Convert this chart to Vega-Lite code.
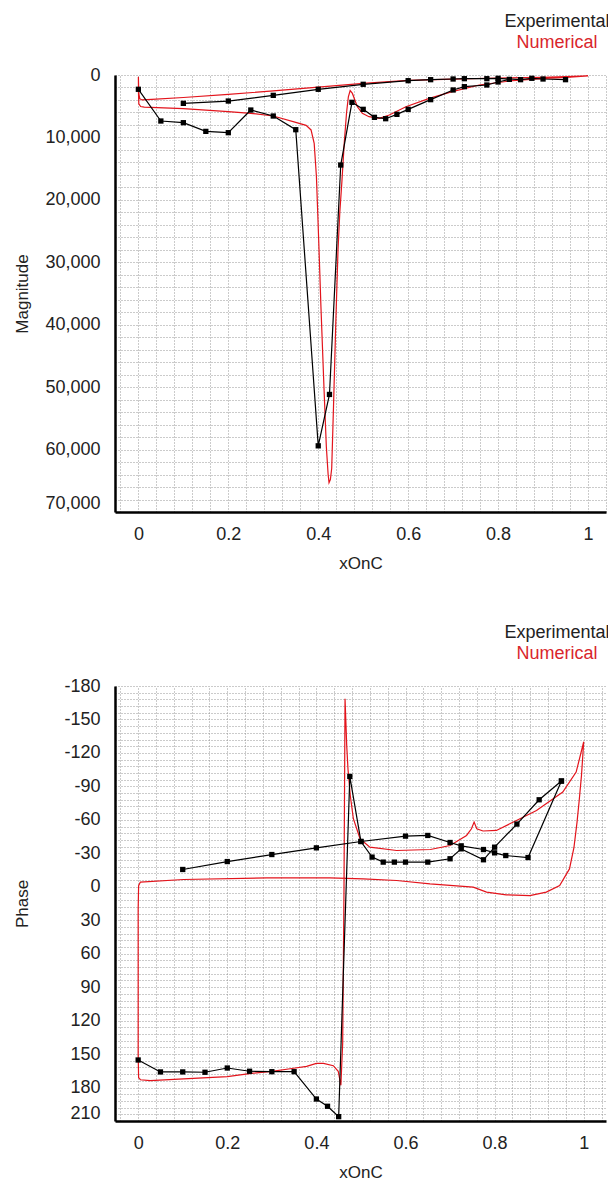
{
  "$schema": "https://vega.github.io/schema/vega-lite/v6.json",
  "background": "white",
  "padding": {"left": 13, "top": 13, "right": 1, "bottom": 0},
  "spacing": 53,
  "config": {
    "view": {"stroke": null},
    "font": "Liberation Sans",
    "axis": {
      "domainColor": "#000000",
      "domainWidth": 2.5,
      "tickSize": 0,
      "tickColor": "#000000",
      "grid": true,
      "gridColor": "#8a8a8a",
      "gridDash": [1, 2],
      "gridWidth": 0.9,
      "labelFont": "Liberation Sans",
      "labelFontSize": 18,
      "labelColor": "#222222",
      "labelOverlap": false,
      "titleFont": "Liberation Sans",
      "titleFontSize": 17,
      "titleFontWeight": "normal",
      "titleColor": "#222222"
    }
  },
  "datasets": {
    "mag": [
      {"series":"Numerical","branch":"N","idx":1,"xOnC":1.0,"value":150},
      {"series":"Numerical","branch":"N","idx":2,"xOnC":0.95,"value":250},
      {"series":"Numerical","branch":"N","idx":3,"xOnC":0.9,"value":370},
      {"series":"Numerical","branch":"N","idx":4,"xOnC":0.8,"value":480},
      {"series":"Numerical","branch":"N","idx":5,"xOnC":0.7,"value":650},
      {"series":"Numerical","branch":"N","idx":6,"xOnC":0.6,"value":870},
      {"series":"Numerical","branch":"N","idx":7,"xOnC":0.5,"value":1330},
      {"series":"Numerical","branch":"N","idx":8,"xOnC":0.4,"value":1950},
      {"series":"Numerical","branch":"N","idx":9,"xOnC":0.3,"value":2550},
      {"series":"Numerical","branch":"N","idx":10,"xOnC":0.2,"value":3100},
      {"series":"Numerical","branch":"N","idx":11,"xOnC":0.1,"value":3600},
      {"series":"Numerical","branch":"N","idx":12,"xOnC":0.03,"value":3900},
      {"series":"Numerical","branch":"N","idx":13,"xOnC":0.008,"value":4000},
      {"series":"Numerical","branch":"N","idx":14,"xOnC":0.003,"value":3800},
      {"series":"Numerical","branch":"N","idx":15,"xOnC":0.001,"value":3000},
      {"series":"Numerical","branch":"N","idx":16,"xOnC":0.0,"value":300},
      {"series":"Numerical","branch":"N","idx":17,"xOnC":0.0003,"value":3000},
      {"series":"Numerical","branch":"N","idx":18,"xOnC":0.001,"value":4600},
      {"series":"Numerical","branch":"N","idx":19,"xOnC":0.005,"value":5050},
      {"series":"Numerical","branch":"N","idx":20,"xOnC":0.013,"value":5150},
      {"series":"Numerical","branch":"N","idx":21,"xOnC":0.1,"value":5400},
      {"series":"Numerical","branch":"N","idx":22,"xOnC":0.2,"value":5880},
      {"series":"Numerical","branch":"N","idx":23,"xOnC":0.25,"value":6140},
      {"series":"Numerical","branch":"N","idx":24,"xOnC":0.3,"value":6570},
      {"series":"Numerical","branch":"N","idx":25,"xOnC":0.35,"value":7600},
      {"series":"Numerical","branch":"N","idx":26,"xOnC":0.373,"value":8060},
      {"series":"Numerical","branch":"N","idx":27,"xOnC":0.384,"value":8800},
      {"series":"Numerical","branch":"N","idx":28,"xOnC":0.391,"value":10950},
      {"series":"Numerical","branch":"N","idx":29,"xOnC":0.396,"value":16300},
      {"series":"Numerical","branch":"N","idx":30,"xOnC":0.401,"value":26400},
      {"series":"Numerical","branch":"N","idx":31,"xOnC":0.406,"value":37100},
      {"series":"Numerical","branch":"N","idx":32,"xOnC":0.413,"value":50500},
      {"series":"Numerical","branch":"N","idx":33,"xOnC":0.418,"value":59500},
      {"series":"Numerical","branch":"N","idx":34,"xOnC":0.422,"value":64000},
      {"series":"Numerical","branch":"N","idx":35,"xOnC":0.424,"value":65300},
      {"series":"Numerical","branch":"N","idx":36,"xOnC":0.427,"value":64800},
      {"series":"Numerical","branch":"N","idx":37,"xOnC":0.43,"value":63000},
      {"series":"Numerical","branch":"N","idx":38,"xOnC":0.434,"value":53000},
      {"series":"Numerical","branch":"N","idx":39,"xOnC":0.439,"value":39800},
      {"series":"Numerical","branch":"N","idx":40,"xOnC":0.444,"value":28000},
      {"series":"Numerical","branch":"N","idx":41,"xOnC":0.448,"value":22000},
      {"series":"Numerical","branch":"N","idx":42,"xOnC":0.4527,"value":17000},
      {"series":"Numerical","branch":"N","idx":43,"xOnC":0.4578,"value":10950},
      {"series":"Numerical","branch":"N","idx":44,"xOnC":0.463,"value":6000},
      {"series":"Numerical","branch":"N","idx":45,"xOnC":0.467,"value":3500},
      {"series":"Numerical","branch":"N","idx":46,"xOnC":0.471,"value":2500},
      {"series":"Numerical","branch":"N","idx":47,"xOnC":0.476,"value":2950},
      {"series":"Numerical","branch":"N","idx":48,"xOnC":0.487,"value":5080},
      {"series":"Numerical","branch":"N","idx":49,"xOnC":0.498,"value":6140},
      {"series":"Numerical","branch":"N","idx":50,"xOnC":0.513,"value":6680},
      {"series":"Numerical","branch":"N","idx":51,"xOnC":0.536,"value":6940},
      {"series":"Numerical","branch":"N","idx":52,"xOnC":0.558,"value":6410},
      {"series":"Numerical","branch":"N","idx":53,"xOnC":0.595,"value":5080},
      {"series":"Numerical","branch":"N","idx":54,"xOnC":0.647,"value":3740},
      {"series":"Numerical","branch":"N","idx":55,"xOnC":0.698,"value":2670},
      {"series":"Numerical","branch":"N","idx":56,"xOnC":0.758,"value":1600},
      {"series":"Numerical","branch":"N","idx":57,"xOnC":0.832,"value":910},
      {"series":"Numerical","branch":"N","idx":58,"xOnC":0.906,"value":530},
      {"series":"Numerical","branch":"N","idx":59,"xOnC":0.96,"value":330},
      {"series":"Numerical","branch":"N","idx":60,"xOnC":1.0,"value":150},
      {"series":"Experimental","branch":"EL","idx":1,"xOnC":0.0,"value":2290},
      {"series":"Experimental","branch":"EL","idx":2,"xOnC":0.05,"value":7370},
      {"series":"Experimental","branch":"EL","idx":3,"xOnC":0.1,"value":7640},
      {"series":"Experimental","branch":"EL","idx":4,"xOnC":0.15,"value":9030},
      {"series":"Experimental","branch":"EL","idx":5,"xOnC":0.2,"value":9240},
      {"series":"Experimental","branch":"EL","idx":6,"xOnC":0.25,"value":5610},
      {"series":"Experimental","branch":"EL","idx":7,"xOnC":0.3,"value":6570},
      {"series":"Experimental","branch":"EL","idx":8,"xOnC":0.35,"value":8760},
      {"series":"Experimental","branch":"EL","idx":9,"xOnC":0.4,"value":59400},
      {"series":"Experimental","branch":"EL","idx":10,"xOnC":0.425,"value":51170},
      {"series":"Experimental","branch":"EL","idx":11,"xOnC":0.45,"value":14420},
      {"series":"Experimental","branch":"EL","idx":12,"xOnC":0.475,"value":4380},
      {"series":"Experimental","branch":"EL","idx":13,"xOnC":0.5,"value":5500},
      {"series":"Experimental","branch":"EL","idx":14,"xOnC":0.525,"value":6780},
      {"series":"Experimental","branch":"EL","idx":15,"xOnC":0.55,"value":7000},
      {"series":"Experimental","branch":"EL","idx":16,"xOnC":0.575,"value":6300},
      {"series":"Experimental","branch":"EL","idx":17,"xOnC":0.6,"value":5500},
      {"series":"Experimental","branch":"EL","idx":18,"xOnC":0.65,"value":3950},
      {"series":"Experimental","branch":"EL","idx":19,"xOnC":0.7,"value":2400},
      {"series":"Experimental","branch":"EL","idx":20,"xOnC":0.725,"value":1870},
      {"series":"Experimental","branch":"EL","idx":21,"xOnC":0.775,"value":1600},
      {"series":"Experimental","branch":"EL","idx":22,"xOnC":0.8,"value":1120},
      {"series":"Experimental","branch":"EL","idx":23,"xOnC":0.825,"value":700},
      {"series":"Experimental","branch":"EU","idx":1,"xOnC":0.1,"value":4540},
      {"series":"Experimental","branch":"EU","idx":2,"xOnC":0.2,"value":4170},
      {"series":"Experimental","branch":"EU","idx":3,"xOnC":0.3,"value":3260},
      {"series":"Experimental","branch":"EU","idx":4,"xOnC":0.4,"value":2290},
      {"series":"Experimental","branch":"EU","idx":5,"xOnC":0.5,"value":1490},
      {"series":"Experimental","branch":"EU","idx":6,"xOnC":0.6,"value":910},
      {"series":"Experimental","branch":"EU","idx":7,"xOnC":0.65,"value":750},
      {"series":"Experimental","branch":"EU","idx":8,"xOnC":0.7,"value":640},
      {"series":"Experimental","branch":"EU","idx":9,"xOnC":0.725,"value":590},
      {"series":"Experimental","branch":"EU","idx":10,"xOnC":0.775,"value":590},
      {"series":"Experimental","branch":"EU","idx":11,"xOnC":0.8,"value":530},
      {"series":"Experimental","branch":"EU","idx":12,"xOnC":0.85,"value":750},
      {"series":"Experimental","branch":"EU","idx":13,"xOnC":0.875,"value":530},
      {"series":"Experimental","branch":"EU","idx":14,"xOnC":0.9,"value":640},
      {"series":"Experimental","branch":"EU","idx":15,"xOnC":0.95,"value":750}
    ],
    "phase": [
      {"series":"Numerical","branch":"N","idx":1,"xOnC":1.0,"value":-130},
      {"series":"Numerical","branch":"N","idx":2,"xOnC":0.995,"value":-100},
      {"series":"Numerical","branch":"N","idx":3,"xOnC":0.99,"value":-78},
      {"series":"Numerical","branch":"N","idx":4,"xOnC":0.985,"value":-58},
      {"series":"Numerical","branch":"N","idx":5,"xOnC":0.978,"value":-35},
      {"series":"Numerical","branch":"N","idx":6,"xOnC":0.968,"value":-16},
      {"series":"Numerical","branch":"N","idx":7,"xOnC":0.946,"value":-1},
      {"series":"Numerical","branch":"N","idx":8,"xOnC":0.916,"value":4.8},
      {"series":"Numerical","branch":"N","idx":9,"xOnC":0.879,"value":7.9},
      {"series":"Numerical","branch":"N","idx":10,"xOnC":0.826,"value":7.2},
      {"series":"Numerical","branch":"N","idx":11,"xOnC":0.782,"value":4.8},
      {"series":"Numerical","branch":"N","idx":12,"xOnC":0.752,"value":0.3},
      {"series":"Numerical","branch":"N","idx":13,"xOnC":0.655,"value":-2.6},
      {"series":"Numerical","branch":"N","idx":14,"xOnC":0.58,"value":-5.6},
      {"series":"Numerical","branch":"N","idx":15,"xOnC":0.505,"value":-7.1},
      {"series":"Numerical","branch":"N","idx":16,"xOnC":0.43,"value":-8},
      {"series":"Numerical","branch":"N","idx":17,"xOnC":0.289,"value":-8},
      {"series":"Numerical","branch":"N","idx":18,"xOnC":0.102,"value":-6.5},
      {"series":"Numerical","branch":"N","idx":19,"xOnC":0.005,"value":-4.2},
      {"series":"Numerical","branch":"N","idx":20,"xOnC":0.001,"value":-1},
      {"series":"Numerical","branch":"N","idx":21,"xOnC":0.0,"value":20},
      {"series":"Numerical","branch":"N","idx":22,"xOnC":0.0,"value":150},
      {"series":"Numerical","branch":"N","idx":23,"xOnC":0.001,"value":171},
      {"series":"Numerical","branch":"N","idx":24,"xOnC":0.005,"value":173},
      {"series":"Numerical","branch":"N","idx":25,"xOnC":0.027,"value":173.8},
      {"series":"Numerical","branch":"N","idx":26,"xOnC":0.102,"value":172.3},
      {"series":"Numerical","branch":"N","idx":27,"xOnC":0.2,"value":170.2},
      {"series":"Numerical","branch":"N","idx":28,"xOnC":0.25,"value":167.5},
      {"series":"Numerical","branch":"N","idx":29,"xOnC":0.3,"value":165.5},
      {"series":"Numerical","branch":"N","idx":30,"xOnC":0.349,"value":162.7},
      {"series":"Numerical","branch":"N","idx":31,"xOnC":0.378,"value":161},
      {"series":"Numerical","branch":"N","idx":32,"xOnC":0.4,"value":158.3},
      {"series":"Numerical","branch":"N","idx":33,"xOnC":0.416,"value":158.3},
      {"series":"Numerical","branch":"N","idx":34,"xOnC":0.438,"value":160.4},
      {"series":"Numerical","branch":"N","idx":35,"xOnC":0.449,"value":165.4},
      {"series":"Numerical","branch":"N","idx":36,"xOnC":0.455,"value":178},
      {"series":"Numerical","branch":"N","idx":37,"xOnC":0.459,"value":140},
      {"series":"Numerical","branch":"N","idx":38,"xOnC":0.462,"value":0},
      {"series":"Numerical","branch":"N","idx":39,"xOnC":0.4643,"value":-168.6},
      {"series":"Numerical","branch":"N","idx":40,"xOnC":0.466,"value":-150},
      {"series":"Numerical","branch":"N","idx":41,"xOnC":0.468,"value":-127},
      {"series":"Numerical","branch":"N","idx":42,"xOnC":0.471,"value":-105},
      {"series":"Numerical","branch":"N","idx":43,"xOnC":0.476,"value":-82},
      {"series":"Numerical","branch":"N","idx":44,"xOnC":0.483,"value":-61},
      {"series":"Numerical","branch":"N","idx":45,"xOnC":0.498,"value":-43},
      {"series":"Numerical","branch":"N","idx":46,"xOnC":0.52,"value":-35.5},
      {"series":"Numerical","branch":"N","idx":47,"xOnC":0.58,"value":-32.5},
      {"series":"Numerical","branch":"N","idx":48,"xOnC":0.656,"value":-33.4},
      {"series":"Numerical","branch":"N","idx":49,"xOnC":0.7,"value":-37},
      {"series":"Numerical","branch":"N","idx":50,"xOnC":0.737,"value":-46},
      {"series":"Numerical","branch":"N","idx":51,"xOnC":0.748,"value":-52},
      {"series":"Numerical","branch":"N","idx":52,"xOnC":0.754,"value":-58},
      {"series":"Numerical","branch":"N","idx":53,"xOnC":0.76,"value":-52},
      {"series":"Numerical","branch":"N","idx":54,"xOnC":0.774,"value":-50},
      {"series":"Numerical","branch":"N","idx":55,"xOnC":0.804,"value":-50.5},
      {"series":"Numerical","branch":"N","idx":56,"xOnC":0.849,"value":-59.4},
      {"series":"Numerical","branch":"N","idx":57,"xOnC":0.894,"value":-68.4},
      {"series":"Numerical","branch":"N","idx":58,"xOnC":0.953,"value":-84.9},
      {"series":"Numerical","branch":"N","idx":59,"xOnC":0.983,"value":-102.8},
      {"series":"Numerical","branch":"N","idx":60,"xOnC":1.0,"value":-130},
      {"series":"Experimental","branch":"EA","idx":1,"xOnC":0.0,"value":155.3},
      {"series":"Experimental","branch":"EA","idx":2,"xOnC":0.05,"value":166},
      {"series":"Experimental","branch":"EA","idx":3,"xOnC":0.1,"value":166},
      {"series":"Experimental","branch":"EA","idx":4,"xOnC":0.15,"value":166.3},
      {"series":"Experimental","branch":"EA","idx":5,"xOnC":0.2,"value":162.5},
      {"series":"Experimental","branch":"EA","idx":6,"xOnC":0.25,"value":165.4},
      {"series":"Experimental","branch":"EA","idx":7,"xOnC":0.3,"value":165.8},
      {"series":"Experimental","branch":"EA","idx":8,"xOnC":0.35,"value":165.8},
      {"series":"Experimental","branch":"EA","idx":9,"xOnC":0.4,"value":190.3},
      {"series":"Experimental","branch":"EA","idx":10,"xOnC":0.425,"value":196.8},
      {"series":"Experimental","branch":"EA","idx":11,"xOnC":0.45,"value":206.1},
      {"series":"Experimental","branch":"EA","idx":12,"xOnC":0.475,"value":-98.9},
      {"series":"Experimental","branch":"EA","idx":13,"xOnC":0.5,"value":-40.6},
      {"series":"Experimental","branch":"EA","idx":14,"xOnC":0.525,"value":-26.6},
      {"series":"Experimental","branch":"EA","idx":15,"xOnC":0.55,"value":-22.1},
      {"series":"Experimental","branch":"EA","idx":16,"xOnC":0.575,"value":-22.1},
      {"series":"Experimental","branch":"EA","idx":17,"xOnC":0.6,"value":-22.1},
      {"series":"Experimental","branch":"EA","idx":18,"xOnC":0.65,"value":-22.1},
      {"series":"Experimental","branch":"EA","idx":19,"xOnC":0.7,"value":-25.1},
      {"series":"Experimental","branch":"EA","idx":20,"xOnC":0.725,"value":-34},
      {"series":"Experimental","branch":"EA","idx":21,"xOnC":0.775,"value":-24.2},
      {"series":"Experimental","branch":"EA","idx":22,"xOnC":0.8,"value":-35.5},
      {"series":"Experimental","branch":"EA","idx":23,"xOnC":0.85,"value":-56.2},
      {"series":"Experimental","branch":"EA","idx":24,"xOnC":0.9,"value":-78},
      {"series":"Experimental","branch":"EA","idx":25,"xOnC":0.95,"value":-94.8},
      {"series":"Experimental","branch":"EB","idx":1,"xOnC":0.1,"value":-15.5},
      {"series":"Experimental","branch":"EB","idx":2,"xOnC":0.2,"value":-22.6},
      {"series":"Experimental","branch":"EB","idx":3,"xOnC":0.3,"value":-28.9},
      {"series":"Experimental","branch":"EB","idx":4,"xOnC":0.4,"value":-34.9},
      {"series":"Experimental","branch":"EB","idx":5,"xOnC":0.5,"value":-40.6},
      {"series":"Experimental","branch":"EB","idx":6,"xOnC":0.6,"value":-45.4},
      {"series":"Experimental","branch":"EB","idx":7,"xOnC":0.65,"value":-46},
      {"series":"Experimental","branch":"EB","idx":8,"xOnC":0.7,"value":-39.7},
      {"series":"Experimental","branch":"EB","idx":9,"xOnC":0.725,"value":-36.7},
      {"series":"Experimental","branch":"EB","idx":10,"xOnC":0.775,"value":-33.4},
      {"series":"Experimental","branch":"EB","idx":11,"xOnC":0.8,"value":-30.4},
      {"series":"Experimental","branch":"EB","idx":12,"xOnC":0.825,"value":-28},
      {"series":"Experimental","branch":"EB","idx":13,"xOnC":0.875,"value":-26.2},
      {"series":"Experimental","branch":"EB","idx":14,"xOnC":0.95,"value":-94.8}
    ]
  },
  "resolve": {"legend": {"color": "independent"}},
  "vconcat": [
    {
      "width": 491,
      "height": 437,
      "data": {"name": "mag"},
      "encoding": {
        "x": {
          "field": "xOnC", "type": "quantitative",
          "scale": {"domain": [-0.052, 1.04], "nice": false, "zero": false},
          "axis": {
            "title": "xOnC",
            "values": [-0.04,0,0.04,0.08,0.12,0.16,0.2,0.24,0.28,0.32,0.36,0.4,0.44,0.48,0.52,0.56,0.6,0.64,0.68,0.72,0.76,0.8,0.84,0.88,0.92,0.96,1,1.04],
            "labelExpr": "abs(datum.value*5-round(datum.value*5)) < 1e-6 ? format(datum.value, '.1~f') : ''",
            "labelPadding": 13,
            "titlePadding": 12,
            "encode": {"ticks": {"update": {
              "y2": {"signal": "abs(datum.value*5-round(datum.value*5)) < 1e-6 ? -9 : -5"},
              "strokeWidth": {"signal": "abs(datum.value*5-round(datum.value*5)) < 1e-6 ? 2 : 1"}
            }}}
          }
        },
        "y": {
          "field": "value", "type": "quantitative",
          "scale": {"domain": [0, 70000], "reverse": true, "nice": false, "zero": false},
          "axis": {
            "title": "Magnitude",
            "titleX": -93,
            "titleBaseline": "middle",
            "values": [0,2000,4000,6000,8000,10000,12000,14000,16000,18000,20000,22000,24000,26000,28000,30000,32000,34000,36000,38000,40000,42000,44000,46000,48000,50000,52000,54000,56000,58000,60000,62000,64000,66000,68000,70000],
            "labelExpr": "datum.value % 10000 === 0 ? format(datum.value, ',') : ''",
            "labelPadding": 15,
            "labelOffset": {"condition": {"test": "datum.value === 70000", "value": -9}, "value": 0},
            "encode": {
              "ticks": {"update": {
                "x2": {"signal": "datum.value % 10000 === 0 ? 10 : 5"},
                "strokeWidth": {"signal": "datum.value % 10000 === 0 ? 2 : 1"}
              }}
            }
          }
        },
        "color": {
          "field": "series", "type": "nominal",
          "scale": {"domain": ["Experimental", "Numerical"], "range": ["#000000", "#e3141c"]},
          "legend": {
            "orient": "none", "legendX": 424, "legendY": -62,
            "title": null, "symbolSize": 0, "symbolOpacity": 0, "symbolStrokeWidth": 0,
            "labelAlign": "center", "labelOffset": 0, "labelFontSize": 18, "labelFont": "Liberation Sans",
            "rowPadding": 3,
            "encode": {"labels": {"update": {"fill": {"signal": "datum.value === 'Numerical' ? '#d9262c' : '#222222'"}}}}
          }
        }
      },
      "layer": [
        {
          "mark": {"type": "line", "strokeWidth": 1.2},
          "encoding": {
            "detail": {"field": "branch", "type": "nominal"},
            "order": {"field": "idx", "type": "quantitative"}
          }
        },
        {
          "transform": [{"filter": "datum.series === 'Experimental'"}],
          "mark": {"type": "point", "shape": "square", "filled": true, "size": 28, "opacity": 1}
        }
      ]
    },
    {
      "width": 491,
      "height": 435,
      "data": {"name": "phase"},
      "encoding": {
        "x": {
          "field": "xOnC", "type": "quantitative",
          "scale": {"domain": [-0.052, 1.05], "nice": false, "zero": false},
          "axis": {
            "title": "xOnC",
            "values": [-0.04,0,0.04,0.08,0.12,0.16,0.2,0.24,0.28,0.32,0.36,0.4,0.44,0.48,0.52,0.56,0.6,0.64,0.68,0.72,0.76,0.8,0.84,0.88,0.92,0.96,1,1.04],
            "labelExpr": "abs(datum.value*5-round(datum.value*5)) < 1e-6 ? format(datum.value, '.1~f') : ''",
            "labelPadding": 13,
            "titlePadding": 12,
            "encode": {"ticks": {"update": {
              "y2": {"signal": "abs(datum.value*5-round(datum.value*5)) < 1e-6 ? -9 : -5"},
              "strokeWidth": {"signal": "abs(datum.value*5-round(datum.value*5)) < 1e-6 ? 2 : 1"}
            }}}
          }
        },
        "y": {
          "field": "value", "type": "quantitative",
          "scale": {"domain": [-180, 210], "reverse": true, "nice": false, "zero": false},
          "axis": {
            "title": "Phase",
            "titleX": -93,
            "titleBaseline": "middle",
            "values": [-180,-174,-168,-162,-156,-150,-144,-138,-132,-126,-120,-114,-108,-102,-96,-90,-84,-78,-72,-66,-60,-54,-48,-42,-36,-30,-24,-18,-12,-6,0,6,12,18,24,30,36,42,48,54,60,66,72,78,84,90,96,102,108,114,120,126,132,138,144,150,156,162,168,174,180,186,192,198,204,210],
            "labelExpr": "datum.value % 30 === 0 ? ('' + datum.value) : ''",
            "labelPadding": 15,
            "labelOffset": {"condition": {"test": "datum.value === 210", "value": -8}, "value": 0},
            "encode": {
              "ticks": {"update": {
                "x2": {"signal": "datum.value % 30 === 0 ? 10 : 5"},
                "strokeWidth": {"signal": "datum.value % 30 === 0 ? 2 : 1"}
              }}
            }
          }
        },
        "color": {
          "field": "series", "type": "nominal",
          "scale": {"domain": ["Experimental", "Numerical"], "range": ["#000000", "#e3141c"]},
          "legend": {
            "orient": "none", "legendX": 424, "legendY": -62,
            "title": null, "symbolSize": 0, "symbolOpacity": 0, "symbolStrokeWidth": 0,
            "labelAlign": "center", "labelOffset": 0, "labelFontSize": 18, "labelFont": "Liberation Sans",
            "rowPadding": 3,
            "encode": {"labels": {"update": {"fill": {"signal": "datum.value === 'Numerical' ? '#d9262c' : '#222222'"}}}}
          }
        }
      },
      "layer": [
        {
          "mark": {"type": "line", "strokeWidth": 1.2},
          "encoding": {
            "detail": {"field": "branch", "type": "nominal"},
            "order": {"field": "idx", "type": "quantitative"}
          }
        },
        {
          "transform": [{"filter": "datum.series === 'Experimental'"}],
          "mark": {"type": "point", "shape": "square", "filled": true, "size": 28, "opacity": 1}
        }
      ]
    }
  ]
}
